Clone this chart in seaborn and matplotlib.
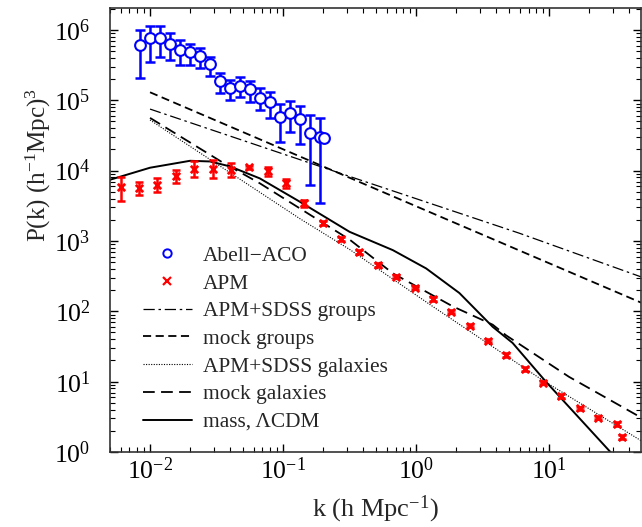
import numpy as np
import pandas as pd
import matplotlib
matplotlib.use("Agg")
import matplotlib.pyplot as plt
import seaborn as sns
from matplotlib.lines import Line2D
from matplotlib.legend_handler import HandlerLine2D
from matplotlib.ticker import LogLocator, NullFormatter, FixedLocator, LogFormatterSciNotation

# ---------------- data ----------------
abell_k = [0.00841, 0.0100, 0.0119, 0.0141, 0.0168, 0.0200, 0.0237, 0.0282, 0.0335, 0.0398,
           0.0473, 0.0562, 0.0668, 0.0794, 0.0944, 0.112, 0.133, 0.158, 0.188, 0.202]
abell_p = [6.03e5, 7.67e5, 7.67e5, 6.31e5, 5.13e5, 4.84e5, 4.30e5, 3.27e5, 1.86e5, 1.48e5,
           1.61e5, 1.45e5, 1.07e5, 9.33e4, 5.75e4, 6.61e4, 5.37e4, 3.39e4, 3.05e4, 2.95e4]
abell_hi = [1.0e6, 1.15e6, 1.12e6, 9.0e5, 7.08e5, 6.31e5, 5.50e5, 4.17e5, 2.48e5, 1.95e5,
            2.14e5, 1.91e5, 1.48e5, 1.33e5, 8.81e4, 9.77e4, 8.32e4, 6.17e4, 5.69e4, 2.95e4]
abell_lo = [2.09e5, 3.47e5, 4.12e5, 3.77e5, 3.20e5, 3.20e5, 2.87e5, 2.24e5, 1.26e5, 1.02e5,
            1.11e5, 9.55e4, 7.16e4, 5.56e4, 2.54e4, 3.51e4, 2.40e4, 6.17e3, 3.47e3, 2.95e4]

apm_k = [0.00603, 0.00828, 0.01138, 0.01563, 0.02148, 0.02951, 0.04055, 0.05572, 0.07656, 0.1052,
         0.1445, 0.1986, 0.2729, 0.3750, 0.5152, 0.7079, 0.9727, 1.337, 1.837, 2.523,
         3.467, 4.764, 6.546, 8.995, 12.36, 16.98, 23.33, 32.06, 35.16]
apm_p = [5943, 5623, 6310, 8433, 10470, 10470, 10230, 11090, 9772, 6607,
         3467, 1778, 1072, 691.8, 457.1, 311.9, 217.3, 148.6, 99.1, 62.66,
         38.28, 23.99, 15.14, 9.68, 6.27, 4.17, 3.08, 2.48, 1.62]
apm_hi = [8072, 7000, 7816, 10230, 13490, 14130, 13030, 11610, 11090, 7586,
          3846, 1905, 1135, 733, 485, 331, 230, 158, 105, 66.4,
          40.6, 25.4, 16.0, 10.3, 6.65, 4.42, 3.26, 2.63, 1.72]
apm_lo = [3715, 4529, 5012, 6761, 8241, 7816, 8072, 10590, 8433, 5623,
          3090, 1660, 1012, 653, 431, 294, 205, 140, 93.5, 59.1,
          36.1, 22.6, 14.3, 9.13, 5.92, 3.93, 2.91, 2.34, 1.53]

grp_obs_k = [0.01, 0.376, 5.96, 49.0]
grp_obs_p = [7.50e4, 7.41e3, 1.29e3, 309]

grp_mock_k = [0.01, 49.0]
grp_mock_p = [1.30e5, 133]

gal_obs_k = [0.01, 0.133, 0.316, 1.26, 8.91, 49.0]
gal_obs_p = [5.25e4, 2089, 759, 126, 10.5, 1.45]

gal_mock_k = [0.01, 0.0355, 0.0668, 0.316, 0.668, 1.884, 3.76, 4.73, 14.1, 49.0]
gal_mock_p = [5.62e4, 1.29e4, 6.61e3, 1047, 347, 117.5, 64.6, 45.7, 11.7, 3.09]

mass_k = [0.005, 0.01, 0.02, 0.0282, 0.0398, 0.0668, 0.133, 0.316, 0.668, 1.189,
          2.113, 3.758, 5.309, 9.44, 28.84, 49.0]
mass_p = [7413, 1.10e4, 1.38e4, 1.35e4, 1.15e4, 7762, 3631, 1349, 741, 407,
          182, 60.3, 35.5, 10.0, 1.0, 0.35]

x_ticks = [0.01, 0.1, 1, 10]
y_ticks = [1, 10, 100, 1e3, 1e4, 1e5, 1e6]

legend_labels = ["Abell\u2212ACO", "APM", "APM+SDSS groups", "mock groups",
                 "APM+SDSS galaxies", "mock galaxies", "mass, \u039bCDM"]

# ---------------- style ----------------
sns.set_theme(style="ticks")
plt.rcParams["font.family"] = ["Liberation Serif", "DejaVu Serif"]
plt.rcParams["mathtext.fontset"] = "custom"
plt.rcParams["mathtext.rm"] = "Liberation Serif"
plt.rcParams["mathtext.it"] = "Liberation Serif:italic"
plt.rcParams["mathtext.default"] = "regular"

fig = plt.figure(figsize=(6.42, 5.27), dpi=100)
ax = fig.add_axes([0.1713, 0.1423, 0.8272, 0.8425])
ax.set_xscale("log")
ax.set_yscale("log")

lines = [
    (grp_obs_k, grp_obs_p, (0, (9, 3, 2, 3)), 0.9),
    (grp_mock_k, grp_mock_p, (0, (4.5, 2.5)), 1.3),
    (gal_obs_k, gal_obs_p, (0, (1, 1.3)), 0.8),
    (gal_mock_k, gal_mock_p, (0, (6.5, 3.5)), 1.3),
    (mass_k, mass_p, "-", 1.4),
]
for kk, pp, ls, lw in lines:
    df = pd.DataFrame({"k": kk, "P": pp})
    sns.lineplot(data=df, x="k", y="P", ax=ax, color="black", linestyle=ls,
                 linewidth=lw, sort=True, estimator=None)

# error bars
ab_p = np.array(abell_p)
ax.errorbar(abell_k, abell_p,
            yerr=[ab_p - np.array(abell_lo), np.array(abell_hi) - ab_p],
            fmt="none", ecolor="#0000ff", elinewidth=1.8, capsize=3.6, capthick=1.8, zorder=3)
ap_p = np.array(apm_p)
ax.errorbar(apm_k, apm_p,
            yerr=[ap_p - np.array(apm_lo), np.array(apm_hi) - ap_p],
            fmt="none", ecolor="#ff0000", elinewidth=1.8, capsize=3.0, capthick=1.8, zorder=3)

df_ab = pd.DataFrame({"k": abell_k, "P": abell_p})
sns.scatterplot(data=df_ab, x="k", y="P", ax=ax, marker="o", s=60,
                facecolors="white", edgecolor="#0000ff", linewidth=1.5, zorder=4)
df_apm = pd.DataFrame({"k": apm_k, "P": apm_p})
sns.scatterplot(data=df_apm, x="k", y="P", ax=ax, marker="x", s=28,
                color="#ff0000", linewidth=2.0, zorder=4)

ax.set_xlim(0.005, 49)
ax.set_ylim(1, 2.05e6)

ax.set_xlabel("k (h Mpc$^{-1}$)", fontsize=19, labelpad=7)
ax.set_ylabel("P(k) (h$^{-1}$Mpc)$^{3}$", fontsize=18)
ax.yaxis.set_label_coords(-0.108, 0.646)

ax.tick_params(which="both", direction="in", top=True, right=True, colors="black")
ax.tick_params(which="major", length=6, width=1.0, labelsize=18.5)
ax.tick_params(axis="y", which="major", pad=14)
ax.tick_params(axis="x", which="major", pad=4)
ax.tick_params(which="minor", length=3.5, width=0.8)
ax.xaxis.set_major_locator(FixedLocator(x_ticks))
ax.yaxis.set_major_locator(FixedLocator(y_ticks))
ax.xaxis.set_major_formatter(LogFormatterSciNotation())
ax.yaxis.set_major_formatter(LogFormatterSciNotation())
ax.xaxis.set_minor_locator(LogLocator(base=10, subs=np.arange(2, 10), numticks=20))
ax.yaxis.set_minor_locator(LogLocator(base=10, subs=np.arange(2, 10), numticks=20))
ax.xaxis.set_minor_formatter(NullFormatter())
ax.yaxis.set_minor_formatter(NullFormatter())
for s in ax.spines.values():
    s.set_color("#333333")
    s.set_linewidth(1.2)
    s.set_visible(True)


class RightMarkerHandler(HandlerLine2D):
    def get_xdata(self, legend, xdescent, ydescent, width, height, fontsize):
        xdata = [-xdescent, -xdescent + width]
        xdata_marker = [-xdescent + width - 0.2 * fontsize]
        return xdata, xdata_marker


h_ab = Line2D([], [], linestyle="none", marker="o", markersize=6, markerfacecolor="white",
              markeredgecolor="#0000ff", markeredgewidth=1.4)
h_apm = Line2D([], [], linestyle="none", marker="x", markersize=5.5, color="#ff0000",
               markeredgewidth=1.6)
h_lines = [Line2D([], [], color="black", linestyle=ls, linewidth=lw) for _, _, ls, lw in lines]
handles = [h_ab, h_apm] + h_lines
leg = ax.legend(handles, legend_labels, loc="upper left", bbox_to_anchor=(0.062, 0.464),
                frameon=False, fontsize=15.4, handlelength=2.29, handletextpad=0.5,
                labelspacing=0.36, borderpad=0, borderaxespad=0,
                handler_map={h_ab: RightMarkerHandler(), h_apm: RightMarkerHandler()})

fig.savefig("out.png", dpi=100)
